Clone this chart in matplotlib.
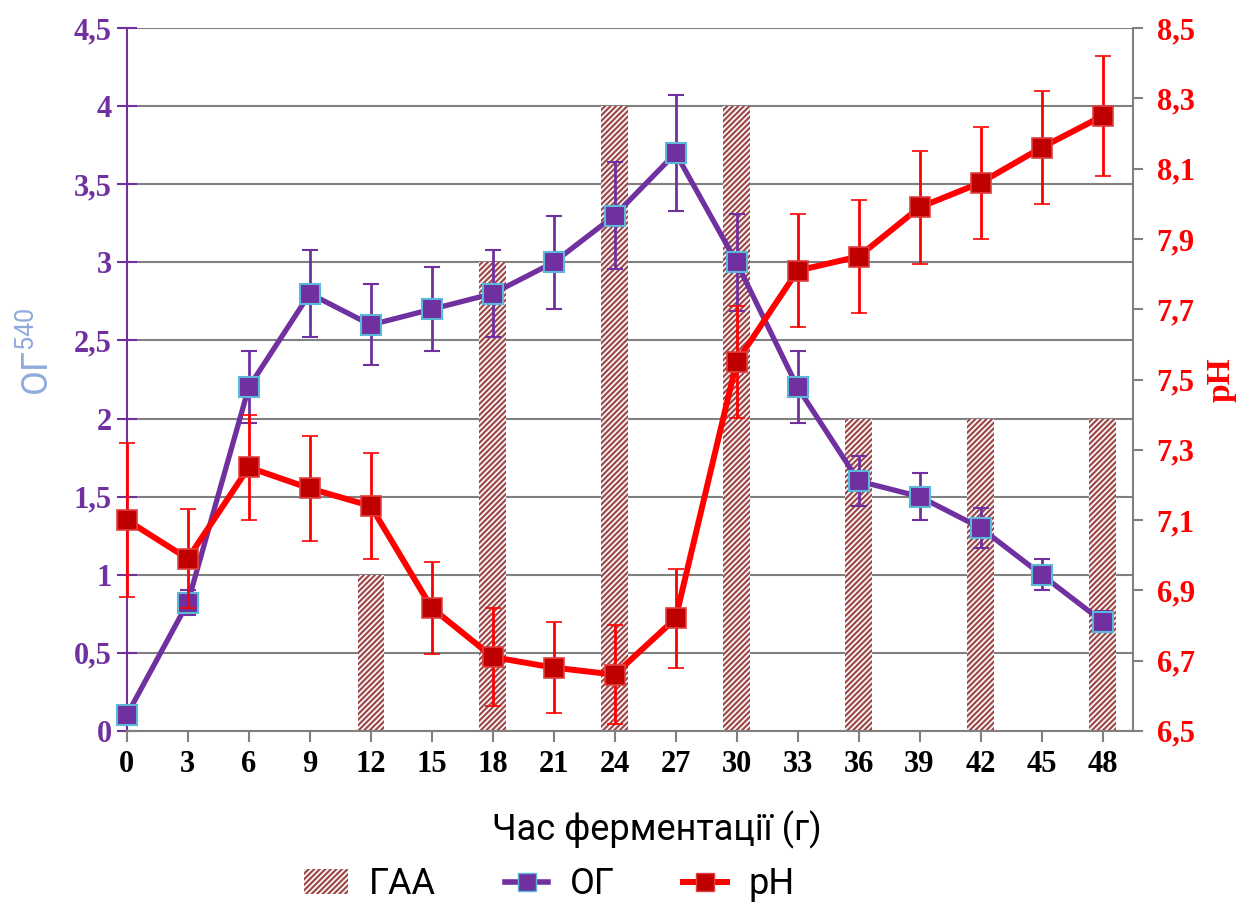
import matplotlib
matplotlib.use("Agg")
import matplotlib.pyplot as plt
from matplotlib.ticker import FuncFormatter, MultipleLocator, FixedLocator
from matplotlib.lines import Line2D
from matplotlib.patches import Patch

# data
hours = [0, 3, 6, 9, 12, 15, 18, 21, 24, 27, 30, 33, 36, 39, 42, 45, 48]
og = [0.1, 0.82, 2.2, 2.8, 2.6, 2.7, 2.8, 3.0, 3.3, 3.7, 3.0, 2.2, 1.6, 1.5, 1.3, 1.0, 0.7]
og_err = [0.01, 0.08, 0.23, 0.28, 0.26, 0.27, 0.28, 0.3, 0.34, 0.37, 0.31, 0.23, 0.16, 0.15, 0.13, 0.1, 0.07]
ph = [7.10, 6.99, 7.25, 7.19, 7.14, 6.85, 6.71, 6.68, 6.66, 6.82, 7.55, 7.81, 7.85, 7.99, 8.06, 8.16, 8.25]
ph_err = [0.22, 0.14, 0.15, 0.15, 0.15, 0.13, 0.14, 0.13, 0.14, 0.14, 0.16, 0.16, 0.16, 0.16, 0.16, 0.16, 0.17]
gaa_hours = [12, 18, 24, 30, 36, 42, 48]
gaa = [1, 3, 4, 4, 2, 2, 2]
ph_ticks = [6.5, 6.7, 6.9, 7.1, 7.3, 7.5, 7.7, 7.9, 8.1, 8.3, 8.5]

purple = "#7030A0"
red = "#FF0000"
dark_red = "#C00000"
hatch_col = "#9E4A4A"

plt.rcParams["hatch.color"] = hatch_col
plt.rcParams["hatch.linewidth"] = 1.6
plt.rcParams["mathtext.default"] = "regular"

fig = plt.figure(figsize=(12.43, 9.09), dpi=100)
ax = fig.add_axes([0.102, 0.196, 0.8095, 0.773])
ax2 = ax.twinx()

serif = "Liberation Serif"
comma = FuncFormatter(lambda v, p: ("%g" % round(v, 2)).replace(".", ","))

ax.bar(gaa_hours, gaa, width=1.3, facecolor="white", edgecolor=hatch_col,
       linewidth=0, hatch="//////", zorder=2)

ax.errorbar(hours, og, yerr=og_err, color=purple, lw=3.8, marker="s", ms=14,
            mfc=purple, mec="#5BB8D8", mew=1.5, ecolor=purple, elinewidth=2,
            capsize=6, capthick=2, zorder=4, clip_on=False)

ax2.errorbar(hours, ph, yerr=ph_err, color=red, lw=4.3, marker="s", ms=14,
             mfc=dark_red, mec="#E04040", mew=1.2, ecolor=red, elinewidth=2,
             capsize=6, capthick=2, zorder=4, clip_on=False)

ax.set_xlim(0, 49.5)
ax.set_ylim(0, 4.5)
ax2.set_ylim(6.5, 8.5)
ax.set_xticks(hours)
ax.yaxis.set_major_locator(MultipleLocator(0.5))
ax2.yaxis.set_major_locator(FixedLocator(ph_ticks))
ax.yaxis.set_major_formatter(comma)
ax2.yaxis.set_major_formatter(comma)

ax.grid(axis="y", color="#808080", lw=1.5, zorder=1)
ax.set_axisbelow(True)

ax.spines["top"].set_visible(False)
ax2.spines["top"].set_visible(False)
ax.spines["left"].set_color(purple)
ax.spines["left"].set_linewidth(1.5)
ax2.spines["left"].set_visible(False)
ax.spines["right"].set_visible(False)
ax2.spines["right"].set_color("#808080")
ax2.spines["right"].set_linewidth(1.5)
ax.spines["bottom"].set_color("#808080")
ax.spines["bottom"].set_linewidth(1.5)
ax2.spines["bottom"].set_visible(False)

ax.tick_params(axis="y", direction="inout", length=14, width=1.5, color=purple,
               labelcolor=purple, labelsize=22, pad=4)
ax2.tick_params(axis="y", direction="out", length=7, width=1.5, color="#808080",
                labelcolor=red, labelsize=22, pad=10)
ax.tick_params(axis="x", direction="out", length=8, width=1.5, color="#808080",
               labelcolor="black", labelsize=22, pad=6)
for lab in ax.get_yticklabels() + ax.get_xticklabels() + ax2.get_yticklabels():
    lab.set_fontfamily(serif)
    lab.set_fontweight("bold")

ax.set_xlabel("Час ферментації (г)", fontsize=26, family="Roboto")
ax.xaxis.set_label_coords(0.527, -0.113)
ax.set_ylabel("ОГ$^{540}$", fontsize=26, family="Roboto", color="#8FAADC")
ax.yaxis.set_label_coords(-0.07, 0.54)
ax2.set_ylabel("pH", fontsize=24, family=serif, fontweight="bold", color=red,
               rotation=90, labelpad=8)

handles = [
    Patch(facecolor="white", edgecolor=hatch_col, hatch="//////", linewidth=0),
    Line2D([0], [0], color=purple, lw=4, marker="s", ms=13, mfc=purple, mec="#5BB8D8"),
    Line2D([0], [0], color=red, lw=4.3, marker="s", ms=13, mfc=dark_red, mec="#E04040"),
]
fig.legend(handles, ["ГАА", "ОГ", "рН"], loc="center", bbox_to_anchor=(0.442, 0.027),
           ncol=3, frameon=False, prop={"family": "Roboto", "size": 26},
           columnspacing=1.9, handlelength=1.2, handletextpad=0.6)

fig.savefig("out.png", dpi=100)
